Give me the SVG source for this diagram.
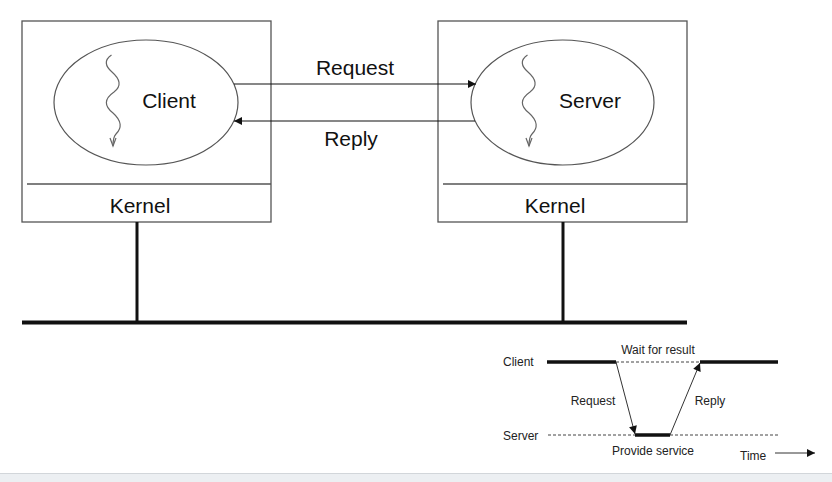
<svg xmlns="http://www.w3.org/2000/svg" width="832" height="482" viewBox="0 0 832 482">
<defs>
<style>
.box{fill:none;stroke:#555;stroke-width:1.3}
.ell{fill:none;stroke:#555;stroke-width:1.2}
.thread{fill:none;stroke:#666;stroke-width:1.2}
.big{font-family:"Liberation Sans",Arial,sans-serif;font-size:21px;fill:#111;text-anchor:middle}
.small{font-family:"Liberation Sans",Arial,sans-serif;font-size:12px;fill:#222}
.conn{stroke:#111;stroke-width:1.1;fill:none}
.thin{stroke:#333;stroke-width:1;fill:none}
.dash{stroke:#444;stroke-width:1;stroke-dasharray:3 2;fill:none}
.thick{stroke:#111;stroke-width:3.5;fill:none}
.wire{stroke:#111;stroke-width:3;fill:none}
</style>
<marker id="ah" viewBox="0 0 10 10" refX="10" refY="5" markerWidth="10" markerHeight="8" markerUnits="userSpaceOnUse" orient="auto">
<path d="M0,0 L10,5 L0,10 z" fill="#111"/>
</marker>
<marker id="ahs" viewBox="0 0 10 10" refX="10" refY="5" markerWidth="11" markerHeight="8" markerUnits="userSpaceOnUse" orient="auto">
<path d="M0,0 L10,5 L0,10 z" fill="#111"/>
</marker>
</defs>
<rect width="832" height="482" fill="#fff"/>
<rect x="0" y="473" width="832" height="9" fill="#eceff2"/>
<line x1="0" y1="473.5" x2="832" y2="473.5" stroke="#d2d6da" stroke-width="1"/>

<g id="client-machine">
<rect class="box" x="22" y="21" width="249" height="201"/>
<line class="box" x1="27" y1="184" x2="271" y2="184"/>
<text class="big" x="140" y="213">Kernel</text>
</g>
<g id="client-process">
<ellipse class="ell" cx="146" cy="102.5" rx="92" ry="62.5"/>
<path class="thread" d="M111.5,55 C104,60 105,66 112,72 C120,79 122,86 114,92 C104,99 104,106 113,113 C122,121 122,128 116,134 C113,137 113,142 113,146"/>
<path class="thread" d="M110,138 L113,146 L116,138"/>
<text class="big" x="169" y="108">Client</text>
</g>

<g id="server-machine">
<rect class="box" x="438" y="21" width="249" height="201"/>
<line class="box" x1="443" y1="184" x2="687" y2="184"/>
<text class="big" x="555" y="213">Kernel</text>
</g>
<g id="server-process">
<ellipse class="ell" cx="562.5" cy="102.5" rx="91.5" ry="62.5"/>
<path class="thread" d="M527.5,55 C520,60 521,66 528,72 C536,79 538,86 530,92 C520,99 520,106 529,113 C538,121 538,128 532,134 C529,137 529,142 529,146"/>
<path class="thread" d="M526,138 L529,146 L532,138"/>
<text class="big" x="590" y="108">Server</text>
</g>

<g id="network">
<line class="wire" x1="22" y1="322.5" x2="687" y2="322.5" style="stroke-width:4"/>
</g>

<g id="connectors">
<line class="conn" x1="234" y1="84" x2="476" y2="84" marker-end="url(#ah)"/>
<text class="big" x="355" y="75">Request</text>
<line class="conn" x1="475" y1="121" x2="234" y2="121" marker-end="url(#ah)"/>
<text class="big" x="351" y="146">Reply</text>
<line class="wire" x1="137" y1="222" x2="137" y2="322"/>
<line class="wire" x1="563" y1="222" x2="563" y2="322"/>
</g>

<g id="timing">
<text class="small" x="503" y="366">Client</text>
<text class="small" x="503" y="440">Server</text>
<line class="thick" x1="547" y1="362" x2="616" y2="362"/>
<line class="dash" x1="616" y1="362" x2="700" y2="362"/>
<line class="thick" x1="700" y1="362" x2="778" y2="362"/>
<line class="dash" x1="548" y1="435" x2="635" y2="435"/>
<line class="thick" x1="635" y1="435" x2="670" y2="435"/>
<line class="dash" x1="670" y1="435" x2="778" y2="435"/>
<text class="small" x="658" y="354" text-anchor="middle">Wait for result</text>
<line class="thin" x1="616" y1="362" x2="635" y2="434" marker-end="url(#ahs)"/>
<line class="thin" x1="670" y1="435" x2="700" y2="363" marker-end="url(#ahs)"/>
<text class="small" x="593" y="405" text-anchor="middle">Request</text>
<text class="small" x="710" y="405" text-anchor="middle">Reply</text>
<text class="small" x="653" y="455" text-anchor="middle">Provide service</text>
<text class="small" x="740" y="460">Time</text>
<line class="thin" x1="775" y1="453" x2="815" y2="453" marker-end="url(#ahs)"/>
</g>
</svg>
